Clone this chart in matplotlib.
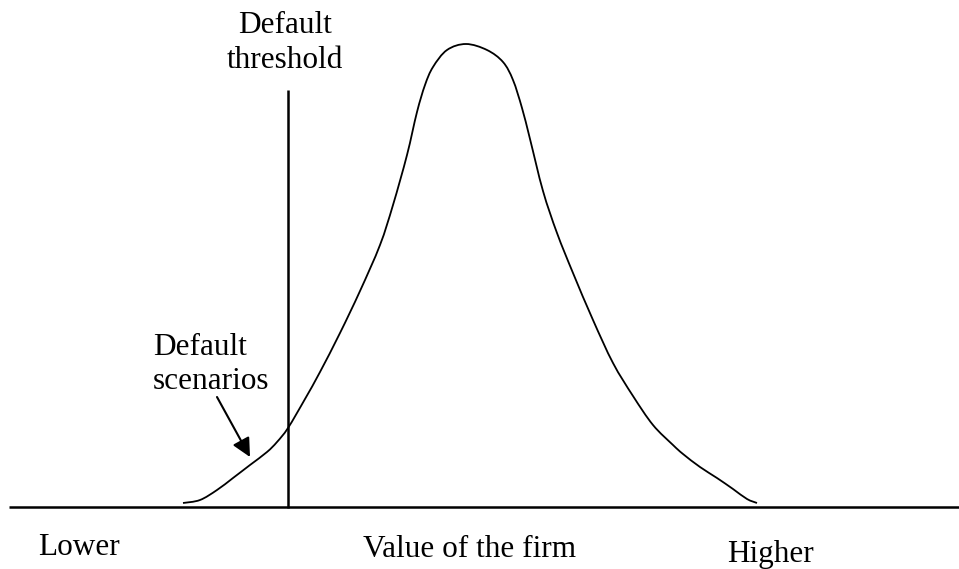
import matplotlib
matplotlib.use("Agg")
import matplotlib.pyplot as plt
from matplotlib.path import Path
from matplotlib.patches import PathPatch
import numpy as np

# Schematic distribution of firm value (x: value, y: density, arbitrary units)
curve_x = [183, 200, 217, 233, 250, 267, 277, 288, 305, 320, 340, 360, 380, 393,
           407, 417, 425, 433, 447, 466, 487, 503, 513, 522, 530, 543, 557, 573,
           593, 613, 633, 653, 673, 683, 700, 717, 733, 747, 757]
curve_y = [4, 7, 17, 29, 42, 55, 65, 79, 108, 135, 174, 216, 262, 302,
           352, 395, 422, 440, 457, 463, 457, 445, 427, 399, 368, 316, 274, 234,
           187, 144, 111, 82, 62, 53, 40, 29, 18, 8, 4]

threshold_x = 288
threshold_top = 417
axis_range = [9, 959]

arrow_tail = (217, 110)
arrow_tip = (250, 50)

labels_bottom = ["Lower", "Value of the firm", "Higher"]

fig = plt.figure(figsize=(9.59, 5.69), dpi=100)
ax = fig.add_axes([0, 0, 1, 1])
ax.set_xlim(0, 959)
ax.set_ylim(-62, 507)
ax.axis("off")

font = dict(family=["Liberation Serif", "DejaVu Serif"], fontsize=22.5, color="black")

# horizontal axis
ax.plot(axis_range, [0, 0], color="black", lw=1.8, solid_capstyle="butt")
# default threshold
ax.plot([threshold_x, threshold_x], [-1, threshold_top], color="black", lw=1.8,
        solid_capstyle="butt")

# distribution curve drawn as a smooth Catmull-Rom path through the points
pts = np.column_stack([curve_x, curve_y]).astype(float)
verts = [pts[0]]
codes = [Path.MOVETO]
n = len(pts)
for i in range(n - 1):
    p0 = pts[i - 1] if i > 0 else pts[i]
    p1 = pts[i]
    p2 = pts[i + 1]
    p3 = pts[i + 2] if i + 2 < n else pts[i + 1]
    c1 = p1 + (p2 - p0) / 6.0
    c2 = p2 - (p3 - p1) / 6.0
    verts += [c1, c2, p2]
    codes += [Path.CURVE4] * 3
ax.add_patch(PathPatch(Path(verts, codes), facecolor="none", edgecolor="black", lw=1.3))

# arrow
ax.annotate("", xy=arrow_tip, xytext=arrow_tail,
            arrowprops=dict(arrowstyle="-|>", color="black", lw=1.5,
                            mutation_scale=28, shrinkA=0, shrinkB=0))

# texts
ax.text(285, 474, "Default", ha="center", va="baseline", **font)
ax.text(285, 439, "threshold", ha="center", va="baseline", **font)
ax.text(153, 152, "Default", ha="left", va="baseline", **font)
ax.text(153, 118, "scenarios", ha="left", va="baseline", **font)
ax.text(38, -48, labels_bottom[0], ha="left", va="baseline", **font)
ax.text(470, -50, labels_bottom[1], ha="center", va="baseline", **font)
ax.text(770, -55, labels_bottom[2], ha="center", va="baseline", **font)

fig.savefig("out.png", dpi=100, facecolor="white")
